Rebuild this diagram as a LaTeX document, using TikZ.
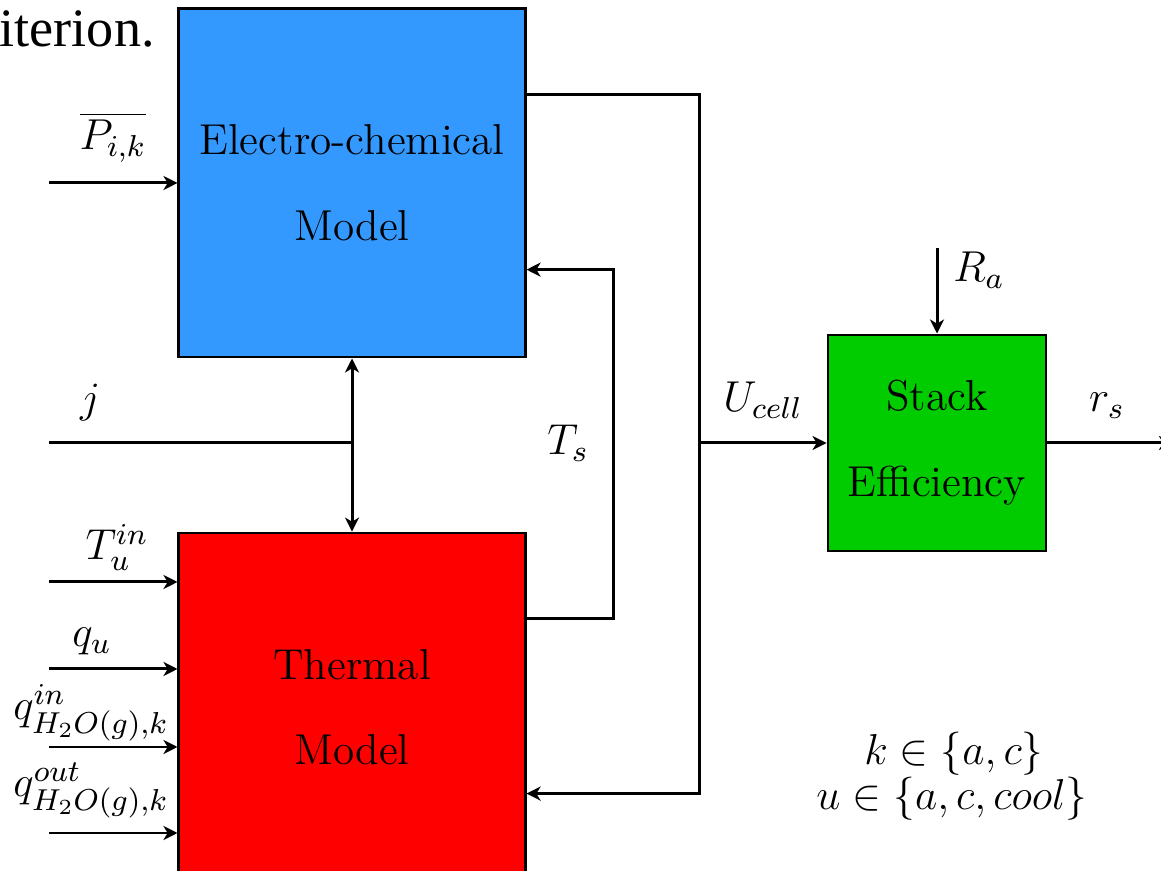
\documentclass[tikz,border=0pt]{standalone}
\usepackage{fix-cm}
\usepackage{amsmath,amssymb}
\usepackage{fontspec}
\newfontfamily\paperfont{Liberation Serif}
\usepackage{xcolor,tikz}
\usetikzlibrary{arrows.meta,positioning}
\definecolor{ecmblue}{RGB}{51,153,255}
\definecolor{thmred}{RGB}{255,0,0}
\definecolor{stkgreen}{RGB}{0,204,0}

\begin{document}
\begin{tikzpicture}[x=0.01cm,y=-0.01cm,
  font={\fontsize{12.3}{24.4}\selectfont},
  block/.style={draw=black,line width=0.8pt,minimum width=3.46cm,
    minimum height=3.48cm,align=center,inner sep=0pt},
  lbl/.style={anchor=base,inner sep=0pt},
  arrow/.style={-{Stealth[length=4pt,width=4pt,inset=1.2pt]},line width=0.85pt},
  biarrow/.style={{Stealth[length=4pt,width=4pt,inset=1.2pt]}-{Stealth[length=4pt,width=4pt,inset=1.2pt]},line width=0.85pt},
  link/.style={line width=0.85pt}]
\useasboundingbox (0,0) rectangle (1161,871);
\clip (0,0) rectangle (1161,871);
\node[anchor=base west,inner sep=0pt,font={\paperfont\fontsize{15.4}{18}\selectfont}] (prev) at (-1,47) {iterion.};
% blocks
\node[block,fill=ecmblue] (ecm) at (352,183) {Electro-chemical\\Model};
\node[block,fill=thmred,below=1.73cm of ecm] (thm) {Thermal\\Model};
\node[block,fill=stkgreen,minimum width=2.18cm,minimum height=2.16cm] (stk) at (937,443) {Stack\\Efficiency};
% inputs on the left
\foreach \nm/\y in {pin/183,jin/443,tin/582,qin/669,hin/747,hout/833}
  \coordinate (\nm) at (49,\y);
\draw[arrow] (pin) -- (pin -| ecm.west);
\draw[link] (jin) -- (jin -| ecm.south);
\draw[biarrow] (ecm) -- (thm);
\foreach \nm in {tin,qin,hin,hout}
  \draw[arrow] (\nm) -- (\nm -| thm.west);
\node[lbl] (lp) at (113,150) {$\overline{P_{i,k}}$};
\node[lbl] (lj) at (90,413) {$j$};
\node[lbl] (lt) at (117,560) {$T_u^{in}$};
\node[lbl] (lq) at (92,647) {$q_u$};
\node[lbl] (lhin) at (91,720) {$q_{H_2O(g),k}^{in}$};
\node[lbl] (lhout) at (91,797) {$q_{H_2O(g),k}^{out}$};
% feedback loops
\coordinate (bus) at (699,443);
\draw[arrow] ([yshift=-8.7mm]ecm.north east) -| (bus) |- ([yshift=8.9mm]thm.south east);
\draw[arrow] ([yshift=-8.7mm]thm.north east) -- ++(87,0) |- ([yshift=-26.2mm]ecm.north east);
\draw[arrow] (bus) -- (bus -| stk.west);
\node[lbl] (lts) at (568,455) {$T_s$};
\node[lbl] (lu) at (763,412) {$U_{cell}$};
% stack efficiency
\coordinate (ra) at (937,248);
\coordinate (rout) at (1173,443);
\draw[arrow] (ra) -- (stk.north);
\draw[arrow] (stk.east) -- (stk.east -| rout);
\node[lbl] (lra) at (979,282) {$R_a$};
\node[lbl] (lr) at (1107,412) {$r_s$};
\node[lbl] (kset) at (954,765) {$k\in\{a,c\}$};
\node[lbl] (uset) at (952,810) {$u\in\{a,c,cool\}$};
\end{tikzpicture}
\end{document}
